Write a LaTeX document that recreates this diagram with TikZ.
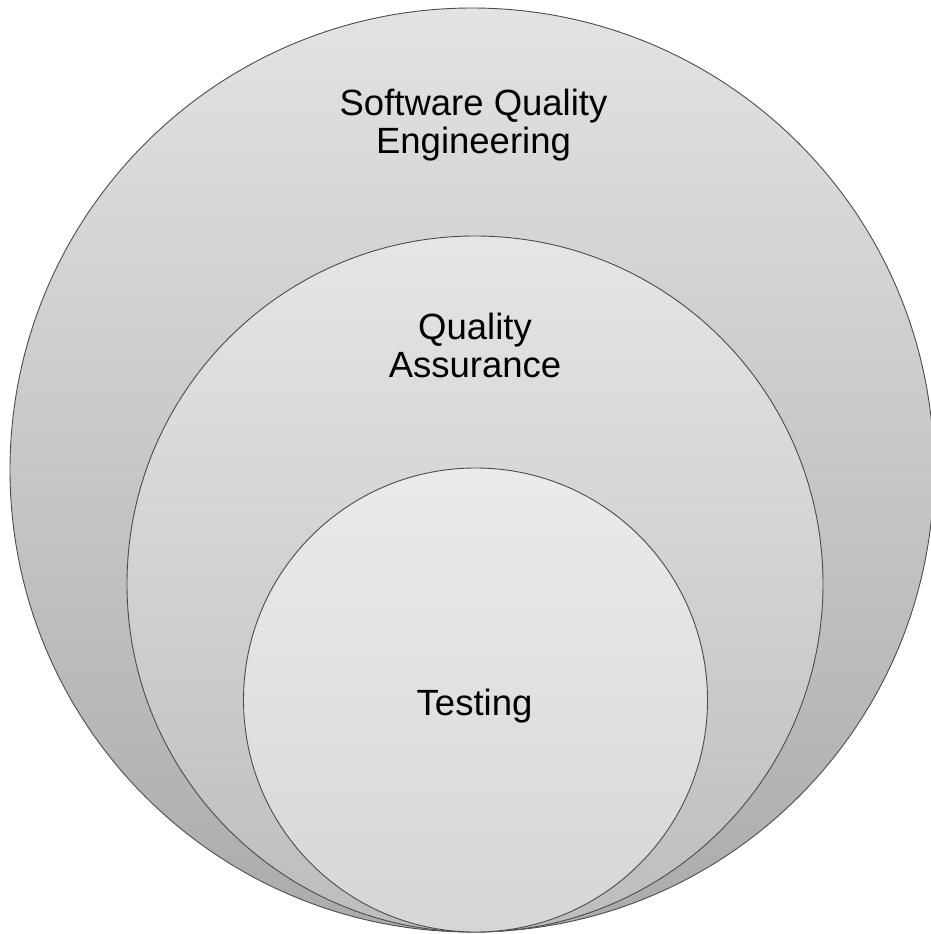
\documentclass[tikz,border=0pt]{standalone}
\usepackage{fontspec}
\setmainfont{Liberation Sans}
\begin{document}
\begin{tikzpicture}[x=1pt,y=-1pt,
  ring/.style={circle, inner sep=0pt, draw=black!70, line width=0.9pt},
  label/.style={align=center, font=\fontsize{36.5}{38}\selectfont, text=black, anchor=base}]
  \useasboundingbox (0,0) rectangle (931,934);
  % nested circles, all touching at the bottom
  \node[ring, minimum size=924pt, top color=black!11, bottom color=black!33] (sqe) at (472,470) {};
  \node[ring, minimum size=696pt, top color=black!10, bottom color=black!26] (qa) at (475,584) {};
  \node[ring, minimum size=464pt, top color=black!8, bottom color=black!16] (test) at (475.5,700) {};
  % labels (base anchor sits on the last line)
  \node[label] (sqelabel) at (473.5,153) {Software Quality\\Engineering};
  \node[label] (qalabel) at (475,377) {Quality\\Assurance};
  \node[label] (testlabel) at (474.5,715) {Testing};
\end{tikzpicture}
\end{document}
